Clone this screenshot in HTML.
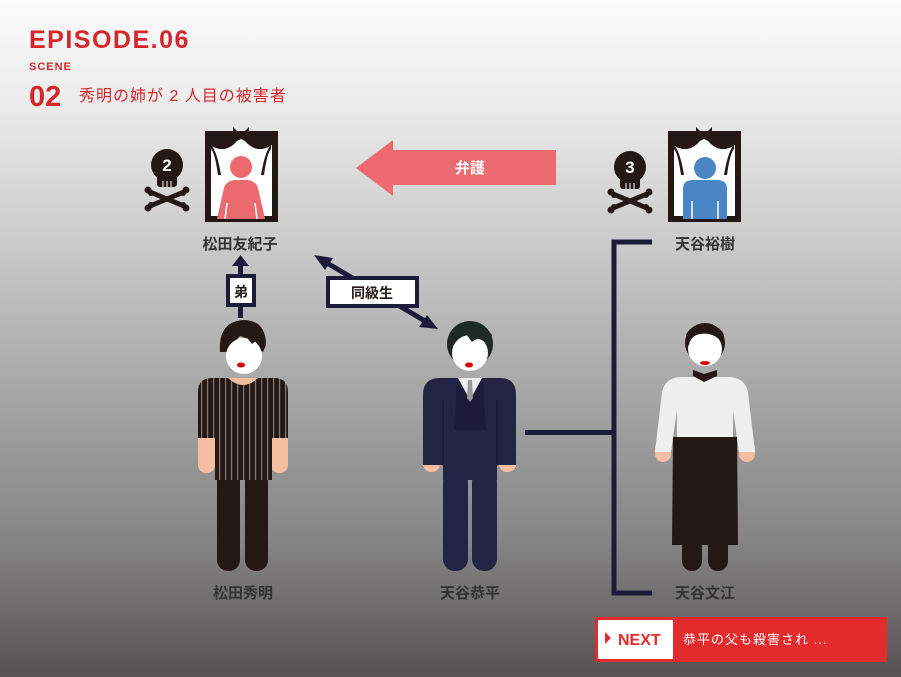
<!DOCTYPE html>
<html><head><meta charset="utf-8"><style>
html,body{margin:0;padding:0}
body{width:901px;height:677px;overflow:hidden}
svg{display:block}
text{font-family:"Liberation Sans","Noto Sans CJK JP",sans-serif}
</style></head><body>
<svg width="901" height="677" viewBox="0 0 901 677" xmlns="http://www.w3.org/2000/svg">
<defs>
<linearGradient id="bg" x1="0" y1="0" x2="0" y2="1">
<stop offset="0" stop-color="#fbfbfb"/>
<stop offset="0.15" stop-color="#ececec"/>
<stop offset="0.5" stop-color="#b3b3b3"/>
<stop offset="0.8" stop-color="#858484"/>
<stop offset="1" stop-color="#555252"/>
</linearGradient>
<pattern id="stripe" width="6" height="10" patternUnits="userSpaceOnUse">
<rect width="6" height="10" fill="#231815"/><rect x="3" width="1.2" height="10" fill="#8a7a74"/>
</pattern>
<g id="skull">
<path d="M-17,27 L17,41 M17,27 L-17,41" stroke="#231815" stroke-width="5" stroke-linecap="round"/>
<circle cx="-19" cy="25" r="3.5" fill="#231815"/><circle cx="-16" cy="28" r="3" fill="#231815"/>
<circle cx="19" cy="25" r="3.5" fill="#231815"/><circle cx="16" cy="28" r="3" fill="#231815"/>
<circle cx="-19" cy="43" r="3.5" fill="#231815"/><circle cx="-16" cy="40" r="3" fill="#231815"/>
<circle cx="19" cy="43" r="3.5" fill="#231815"/><circle cx="16" cy="40" r="3" fill="#231815"/>
<circle cx="0" cy="0" r="16" fill="#231815"/>
<rect x="-10" y="8" width="20" height="14" rx="3" fill="#231815"/>
<path d="M-4,16 L-4,22 M0,16 L0,22 M4,16 L4,22" stroke="#fff" stroke-width="1"/>
</g>
<g id="frame">
<rect x="3" y="3" width="67" height="85" fill="#fff" stroke="#231815" stroke-width="6"/>
<path d="M5,5 L67,5 L67,14 Q52,24 40,10 L36,8 L32,10 Q20,24 5,14 Z" fill="#231815"/>
<path d="M6,14 Q12,20 16,44 L13,44 Q10,22 6,18 Z" fill="#231815"/>
<path d="M66,14 Q60,20 56,44 L59,44 Q62,22 66,18 Z" fill="#231815"/>
<path d="M28,-4 L36,4 L44,-4 L44,8 L28,8 Z" fill="#231815"/>
</g>
</defs>
<rect width="901" height="677" fill="url(#bg)"/>

<text x="29" y="48" font-size="25" font-weight="bold" fill="#d7262a" letter-spacing="1.5">EPISODE.06</text>
<text x="29" y="70" font-size="11" font-weight="bold" fill="#d7262a" letter-spacing="1">SCENE</text>
<text x="29" y="106" font-size="29" font-weight="bold" fill="#d7262a">02</text>
<text x="79" y="101" font-size="16" fill="#d7262a" letter-spacing="1">秀明の姉が 2 人目の被害者</text>

<!-- frames -->
<g transform="translate(205,131)"><use href="#frame"/>
<circle cx="36" cy="36" r="11" fill="#ea6a70"/>
<path d="M12,88 L19,57 Q21,50 30,49 L42,49 Q51,50 53,57 L60,88 Z" fill="#ea6a70"/>
<path d="M22,72 L20,88 M50,72 L52,88" stroke="#fff" stroke-width="1.5"/>
</g>
<g transform="translate(668,131)"><use href="#frame"/>
<circle cx="37" cy="37" r="11" fill="#4a86c5"/>
<path d="M15,88 L15,58 Q15,49 25,49 L49,49 Q59,49 59,58 L59,88 Z" fill="#4a86c5"/>
<path d="M24,70 L24,88 M50,70 L50,88" stroke="#fff" stroke-width="1.5"/>
</g>
<g transform="translate(167,165)"><use href="#skull"/><text x="0" y="6" font-size="17" font-weight="bold" fill="#fff" text-anchor="middle">2</text></g>
<g transform="translate(630,167)"><use href="#skull"/><text x="0" y="6" font-size="17" font-weight="bold" fill="#fff" text-anchor="middle">3</text></g>

<!-- pink arrow -->
<path d="M356,168 L393,140 L393,150 L556,150 L556,185 L393,185 L393,196 Z" fill="#ec6b71"/>
<text x="470" y="173" font-size="15" font-weight="bold" fill="#fff" text-anchor="middle">弁護</text>

<text x="240" y="249" font-size="15" font-weight="bold" fill="#333" text-anchor="middle">松田友紀子</text>
<text x="705" y="249" font-size="15" font-weight="bold" fill="#333" text-anchor="middle">天谷裕樹</text>

<!-- 弟 arrow -->
<rect x="238" y="262" width="5" height="56" fill="#1c1c3a"/>
<path d="M240.5,255 L232,266 L249,266 Z" fill="#1c1c3a"/>
<rect x="228" y="276" width="26" height="29" fill="#fff" stroke="#1c1c3a" stroke-width="4"/>
<text x="241" y="297" font-size="14" font-weight="bold" fill="#231815" text-anchor="middle">弟</text>

<!-- 同級生 -->
<line x1="322" y1="260" x2="430" y2="324" stroke="#1c1c3a" stroke-width="5"/>
<path d="M314,255 L333,258 L325,270 Z" fill="#1c1c3a"/>
<path d="M438,329 L419,327 L427,315 Z" fill="#1c1c3a"/>
<rect x="328" y="278" width="89" height="28" fill="#fff" stroke="#1c1c3a" stroke-width="4"/>
<text x="372" y="298" font-size="14" font-weight="bold" fill="#231815" text-anchor="middle">同級生</text>

<!-- bracket -->
<path d="M652,242 L614,242 L614,593 L652,593" stroke="#1c1c3a" stroke-width="5" fill="none"/>
<rect x="525" y="430" width="89" height="5" fill="#1c1c3a"/>

<!-- person 1 -->
<g>
<rect x="217" y="470" width="23" height="101" rx="11" fill="#231815"/>
<rect x="245" y="470" width="23" height="101" rx="11" fill="#231815"/>
<rect x="198" y="430" width="17" height="43" rx="8" fill="#f5bea1"/>
<rect x="271" y="430" width="17" height="43" rx="8" fill="#f5bea1"/>
<path d="M198,438 L198,392 Q198,378 212,378 L274,378 Q288,378 288,392 L288,438 L272,438 L272,480 L215,480 L215,438 Z" fill="url(#stripe)"/>
<path d="M228,378 Q243,392 258,378 Z" fill="#f5bea1"/>
<path d="M220,352 Q218,322 243,320 Q266,320 266,345 L263,352 L254,346 Q248,338 240,336 Q232,344 226,352 Z" fill="#231815"/>
<circle cx="244" cy="356" r="18" fill="#fff"/>
<path d="M226,352 Q230,336 244,334 L252,344 Q257,338 262,346 L264,340 Q260,326 243,326 Q225,328 224,350 Z" fill="#231815"/>
<ellipse cx="241" cy="365" rx="4" ry="2.5" fill="#d00"/>
</g>
<!-- person 2 -->
<g>
<rect x="443" y="470" width="25" height="101" rx="12" fill="#232444"/>
<rect x="472" y="470" width="25" height="101" rx="12" fill="#232444"/>
<rect x="423" y="440" width="17" height="32" rx="8" fill="#f5bea1"/>
<rect x="499" y="440" width="17" height="32" rx="8" fill="#f5bea1"/>
<path d="M423,465 L423,395 Q423,378 440,378 L500,378 Q516,378 516,395 L516,465 L497,465 L497,480 L443,480 L443,465 Z" fill="#232444"/>
<path d="M443,400 L443,465 M497,400 L497,465" stroke="#1a1a33" stroke-width="1.5"/>
<path d="M457,380 L470,400 L483,380 L486,430 L454,430 Z" fill="#1c1c3a"/>
<path d="M458,378 L482,378 L470,400 Z" fill="#eee"/>
<path d="M468,380 L472,380 L473,398 L470,402 L467,398 Z" fill="#999"/>
<circle cx="470" cy="344" r="23" fill="#1f2a24"/>
<circle cx="470" cy="353" r="18" fill="#fff"/>
<path d="M450,350 Q452,332 466,334 L472,342 Q480,334 490,348 L492,335 Q482,322 468,322 Q448,326 450,350 Z" fill="#1f2a24"/>
<ellipse cx="469" cy="365" rx="4" ry="2.5" fill="#d00"/>
</g>
<!-- person 3 -->
<g>
<rect x="682" y="520" width="20" height="51" rx="10" fill="#231815"/>
<rect x="708" y="520" width="20" height="51" rx="10" fill="#231815"/>
<rect x="655" y="440" width="16" height="22" rx="8" fill="#f5bea1"/>
<rect x="739" y="440" width="16" height="22" rx="8" fill="#f5bea1"/>
<path d="M655,452 L662,392 Q665,378 680,377 L730,377 Q745,378 748,392 L755,452 L739,452 L733,410 L733,440 L677,440 L677,410 L671,452 Z" fill="#efefef"/>
<path d="M673,437 L737,437 L738,545 L672,545 Z" fill="#231815"/>
<path d="M693,376 L704,382 L717,376 L717,370 L704,374 L693,370 Z" fill="#231815"/>
<circle cx="705" cy="343" r="20" fill="#231815"/>
<circle cx="705" cy="349" r="17" fill="#fff"/>
<path d="M686,345 L686,335 Q690,325 705,325 Q720,325 724,335 L724,345 L720,340 Q712,332 700,334 Q690,336 689,345 Z" fill="#231815"/>
<ellipse cx="705" cy="363" rx="5" ry="2" fill="#d00"/>
</g>

<text x="243" y="598" font-size="15" font-weight="bold" fill="#333" text-anchor="middle">松田秀明</text>
<text x="470" y="598" font-size="15" font-weight="bold" fill="#333" text-anchor="middle">天谷恭平</text>
<text x="705" y="598" font-size="15" font-weight="bold" fill="#333" text-anchor="middle">天谷文江</text>

<!-- NEXT -->
<rect x="595" y="617" width="292" height="45" fill="#e42b2c"/>
<rect x="598" y="620" width="75" height="39" fill="#fff"/>
<path d="M605,632 L611,638 L605,644 Z" fill="#e42b2c"/>
<text x="618" y="645" font-size="16" font-weight="bold" fill="#e42b2c">NEXT</text>
<text x="683" y="644" font-size="13" fill="#fff" letter-spacing="1">恭平の父も殺害され ...</text>
</svg>
</body></html>
